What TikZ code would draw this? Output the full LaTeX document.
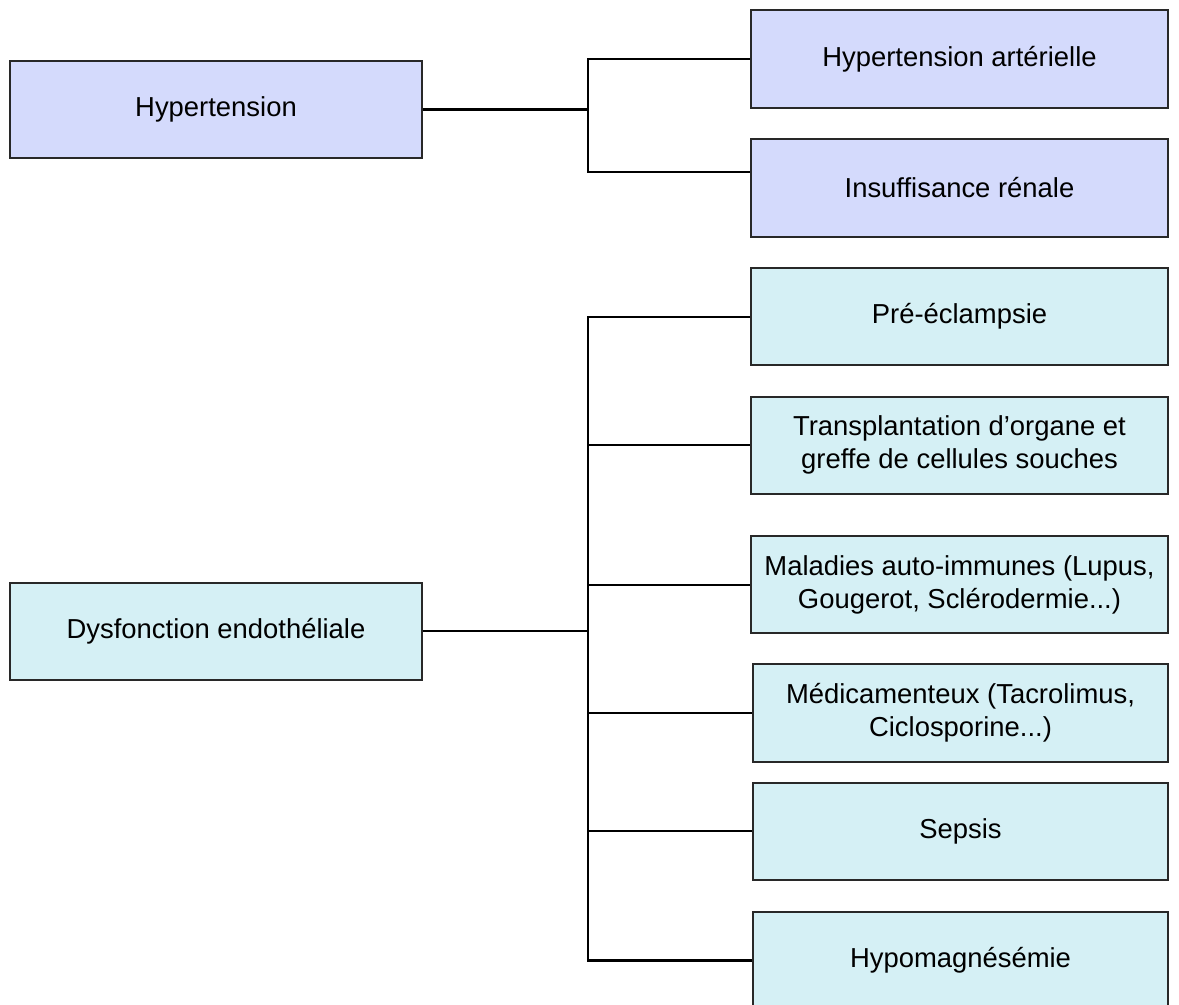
\documentclass[tikz,border=0pt]{standalone}
\usepackage{fontspec}
\setmainfont{Liberation Sans}

\begin{document}
\begin{tikzpicture}[x=0.025cm, y=-0.025cm,
        box/.style={draw=boxline, line width=1.3pt, fill=#1, align=center,
                    inner sep=2pt, minimum height=2.43cm,
                    font=\fontsize{19.5}{23.6}\selectfont},
        lbox/.style={minimum width=10.3cm},
        rbox/.style={minimum width=10.42cm},
        branch/.style={draw=black, line width=1.5pt}]
        \definecolor{hypblue}{RGB}{212,218,252}
        \definecolor{endocyan}{RGB}{213,240,245}
        \definecolor{boxline}{RGB}{40,40,40}

        \useasboundingbox (0,0) rectangle (1179,1005);

        \node[box=hypblue, lbox] (hyp) at (216, 109.5) {Hypertension};
        \node[box=hypblue, rbox] (art) at (959.5, 59) {Hypertension artérielle};
        \node[box=hypblue, rbox] (ins) at (959.5, 188) {Insuffisance rénale};

        \draw[branch] (hyp.east) -- ++(165,0) coordinate (hj);
        \draw[branch] (art.west) -| (hj |- 0,171.7) -- (ins.west |- 0,171.7);

        \node[box=endocyan, lbox] (dys) at (216, 631.3) {Dysfonction endothéliale};
        \node[box=endocyan, rbox] (pre) at (959.5, 316.6) {Pré-éclampsie};
        \node[box=endocyan, rbox] (tra) at (959.5, 445.3) {Transplantation d’organe et\\greffe de cellules souches};
        \node[box=endocyan, rbox] (mal) at (959.5, 584.7) {Maladies auto-immunes (Lupus,\\Gougerot, Sclérodermie...)};
        \node[box=endocyan, rbox, minimum width=10.37cm] (med) at (960.5, 713) {Médicamenteux (Tacrolimus,\\Ciclosporine...)};
        \node[box=endocyan, rbox, minimum width=10.37cm] (sep) at (960.5, 831.3) {Sepsis};
        \node[box=endocyan, rbox, minimum width=10.37cm] (hmg) at (960.5, 960.5) {Hypomagnésémie};

        \draw[branch] (dys.east) -- ++(165,0) coordinate (dj);
        \draw[branch] (pre.west) -| (dj |- hmg.west) -- (hmg.west);
        \foreach \n in {tra, mal, med, sep}
            \draw[branch] (dj |- \n.west) -- (\n.west);

\end{tikzpicture}
\end{document}
